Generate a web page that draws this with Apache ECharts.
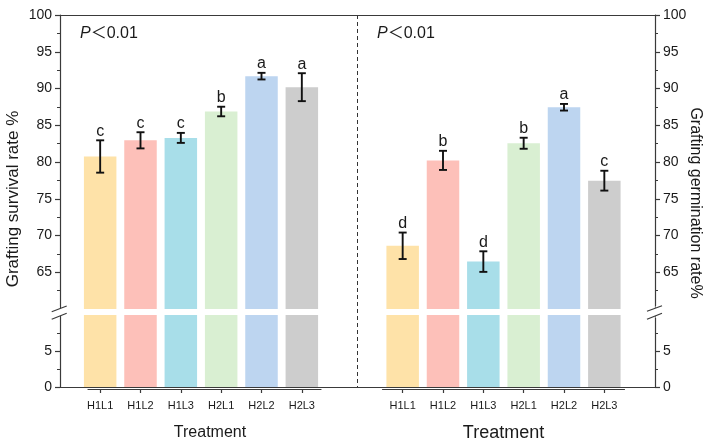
<!DOCTYPE html>
<html>
<head>
<meta charset="utf-8">
<script src="https://cdn.jsdelivr.net/npm/echarts@6/dist/echarts.min.js"></script>
<style>html,body{margin:0;padding:0;background:#fff;}#c{width:714px;height:445px;}</style>
</head>
<body>
<div id="c"></div>
<script>
const categories = ['H1L1', 'H1L2', 'H1L3', 'H2L1', 'H2L2', 'H2L3'];
const survival = [80.75, 82.95, 83.28, 86.87, 91.68, 90.18];
const survivalErr = [2.2, 1.1, 0.68, 0.65, 0.45, 1.9];
const survivalLetters = ['c', 'c', 'c', 'b', 'a', 'a'];
const germination = [68.6, 80.22, 66.45, 82.55, 87.45, 77.46];
const germinationErr = [1.8, 1.3, 1.4, 0.75, 0.45, 1.35];
const germinationLetters = ['d', 'b', 'd', 'b', 'a', 'c'];
const barColors = ['#FEE2A8', '#FDC0B9', '#A8DEE9', '#D9EFD2', '#BDD5F0', '#CDCDCD'];
const upperRange = [60, 100];
const lowerRange = [0, 10];
const tickStep = 5;

const FONT = '"Liberation Sans", Arial, "Noto Sans CJK SC", sans-serif';
const AX = '#3a3a3a';
const TXT = '#1a1a1a';

function colored(vals) {
  return vals.map((v, i) => ({ value: v, itemStyle: { color: barColors[i] } }));
}
function errData(vals, errs) {
  return vals.map((v, i) => [i, v, errs[i]]);
}
function errRender(letters) {
  return function (params, api) {
    const i = api.value(0), m = api.value(1), e = api.value(2);
    const top = api.coord([i, m + e]);
    const bot = api.coord([i, m - e]);
    const x = top[0], hw = 4;
    const st = { stroke: '#111', lineWidth: 1.9 };
    return {
      type: 'group',
      children: [
        { type: 'line', shape: { x1: x, y1: top[1], x2: x, y2: bot[1] }, style: st },
        { type: 'line', shape: { x1: x - hw, y1: top[1], x2: x + hw, y2: top[1] }, style: st },
        { type: 'line', shape: { x1: x - hw, y1: bot[1], x2: x + hw, y2: bot[1] }, style: st },
        { type: 'text', x: x, y: top[1] - 1,
          style: { text: letters[params.dataIndex], fill: TXT, font: '16px ' + FONT, align: 'center', verticalAlign: 'bottom' } }
      ]
    };
  };
}
function yAx(grid, range, pos, offset) {
  return {
    type: 'value', gridIndex: grid, min: range[0], max: range[1], interval: tickStep,
    position: pos, offset: offset,
    axisLine: { show: true, lineStyle: { color: AX, width: 1.2 } },
    axisTick: { show: true, length: 5, lineStyle: { color: AX, width: 1.2 } },
    minorTick: { show: true, splitNumber: 2, length: 3, lineStyle: { color: AX, width: 1 } },
    splitLine: { show: false },
    axisLabel: { color: TXT, fontSize: 14, fontFamily: FONT, margin: 8,
      formatter: v => (v === range[0] && range[0] !== 0) || (v === range[1] && range[1] === lowerRange[1]) ? '' : String(v) }
  };
}
function xCat(grid, show, showLine) {
  if (!show) return { type: 'category', gridIndex: grid, data: categories, show: false };
  return {
    type: 'category', gridIndex: grid, data: categories, position: 'bottom', offset: 2,
    axisLine: { show: showLine, onZero: false, lineStyle: { color: AX, width: 1.2 } },
    axisTick: { show: true, alignWithLabel: true, length: 4, lineStyle: { color: AX, width: 1.2 } },
    axisLabel: { color: TXT, fontSize: 11, fontFamily: FONT, margin: 11 }
  };
}

const chart = echarts.init(document.getElementById('c'), null, { renderer: 'canvas' });
const option = {
  animation: false,
  backgroundColor: '#fff',
  textStyle: { fontFamily: FONT },
  grid: [
    { left: 60, top: 15, width: 595, height: 372 },
    { left: 80, top: 15, width: 242, height: 294 },
    { left: 80, top: 315, width: 242, height: 72 },
    { left: 382.5, top: 15, width: 242, height: 294 },
    { left: 382.5, top: 315, width: 242, height: 72 },
    { left: 88, top: 315, width: 233, height: 72 }
  ],
  xAxis: [
    { type: 'value', gridIndex: 0, min: 0, max: 2, interval: 1, position: 'bottom',
      axisLine: { show: true, onZero: false, lineStyle: { color: AX, width: 1.2 } },
      axisTick: { show: false }, axisLabel: { show: false },
      splitLine: { show: true, showMinLine: false, showMaxLine: false, lineStyle: { type: [4, 3], color: '#333', width: 1 } } },
    { type: 'value', gridIndex: 0, min: 0, max: 1, position: 'top',
      axisLine: { show: true, onZero: false, lineStyle: { color: AX, width: 1.2 } },
      axisTick: { show: false }, axisLabel: { show: false }, splitLine: { show: false } },
    xCat(1, false),
    xCat(2, true, false),
    xCat(3, false),
    xCat(4, true, true),
    { type: 'value', gridIndex: 5, min: 0, max: 1, position: 'bottom', offset: 2,
      axisLine: { show: true, onZero: false, lineStyle: { color: AX, width: 1.2 } },
      axisTick: { show: false }, axisLabel: { show: false }, splitLine: { show: false } }
  ],
  yAxis: [
    { type: 'value', gridIndex: 0, min: 0, max: 1, show: false },
    yAx(1, upperRange, 'left', 20),
    yAx(2, lowerRange, 'left', 20),
    yAx(3, upperRange, 'right', 30.5),
    yAx(4, lowerRange, 'right', 30.5),
    { type: 'value', gridIndex: 5, min: 0, max: 1, show: false }
  ],
  series: [
    { type: 'bar', xAxisIndex: 2, yAxisIndex: 1, barWidth: 32.5, data: colored(survival), clip: true },
    { type: 'bar', xAxisIndex: 3, yAxisIndex: 2, barWidth: 32.5, data: colored(survival), clip: true },
    { type: 'custom', xAxisIndex: 2, yAxisIndex: 1, data: errData(survival, survivalErr), renderItem: errRender(survivalLetters), z: 5 },
    { type: 'bar', xAxisIndex: 4, yAxisIndex: 3, barWidth: 32.5, data: colored(germination), clip: true },
    { type: 'bar', xAxisIndex: 5, yAxisIndex: 4, barWidth: 32.5, data: colored(germination), clip: true },
    { type: 'custom', xAxisIndex: 4, yAxisIndex: 3, data: errData(germination, germinationErr), renderItem: errRender(germinationLetters), z: 5 }
  ],
  graphic: [
    { type: 'text', x: 13, y: 199, rotation: Math.PI / 2, z: 100,
      style: { text: 'Grafting survival rate %', font: '17px ' + FONT, fill: TXT, align: 'center', verticalAlign: 'middle' } },
    { type: 'text', x: 695, y: 203, rotation: -Math.PI / 2, z: 100,
      style: { text: 'Grafting germination rate%', font: '16px ' + FONT, fill: TXT, align: 'center', verticalAlign: 'middle' } },
    { type: 'text', x: 80, y: 34, z: 100,
      style: { text: '{i|P}＜0.01', font: '16px ' + FONT, fill: TXT, align: 'left', verticalAlign: 'middle',
        rich: { i: { fontStyle: 'italic', fontSize: 16, fontFamily: FONT, fill: TXT } } } },
    { type: 'text', x: 377, y: 34, z: 100,
      style: { text: '{i|P}＜0.01', font: '16px ' + FONT, fill: TXT, align: 'left', verticalAlign: 'middle',
        rich: { i: { fontStyle: 'italic', fontSize: 16, fontFamily: FONT, fill: TXT } } } },
    { type: 'text', x: 210, y: 433, z: 100,
      style: { text: 'Treatment', font: '16px ' + FONT, fill: TXT, align: 'center', verticalAlign: 'middle' } },
    { type: 'text', x: 503.5, y: 433, z: 100,
      style: { text: 'Treatment', font: '18px ' + FONT, fill: TXT, align: 'center', verticalAlign: 'middle' } },
    // axis break marks (left)
    { type: 'rect', z: 100, shape: { x: 52, y: 306, width: 7.4, height: 12 }, style: { fill: '#fff' } },
    { type: 'polygon', z: 100, shape: { points: [[51.7, 311.7], [66.7, 306], [66.7, 313.3], [51.7, 319.3]] }, style: { fill: '#fff' } },
    { type: 'line', z: 101, shape: { x1: 51.7, y1: 311.7, x2: 66.7, y2: 306 }, style: { stroke: AX, lineWidth: 1.2 } },
    { type: 'line', z: 101, shape: { x1: 51.7, y1: 319.3, x2: 66.7, y2: 313.3 }, style: { stroke: AX, lineWidth: 1.2 } },
    // axis break marks (right)
    { type: 'rect', z: 100, shape: { x: 655.6, y: 306, width: 7.4, height: 12 }, style: { fill: '#fff' } },
    { type: 'polygon', z: 100, shape: { points: [[647, 311.2], [662, 305.8], [662, 313.3], [647, 319.3]] }, style: { fill: '#fff' } },
    { type: 'line', z: 101, shape: { x1: 647, y1: 311.2, x2: 662, y2: 305.8 }, style: { stroke: AX, lineWidth: 1.2 } },
    { type: 'line', z: 101, shape: { x1: 647, y1: 319.3, x2: 662, y2: 313.3 }, style: { stroke: AX, lineWidth: 1.2 } }
  ]
};
chart.setOption(option);
</script>
</body>
</html>
